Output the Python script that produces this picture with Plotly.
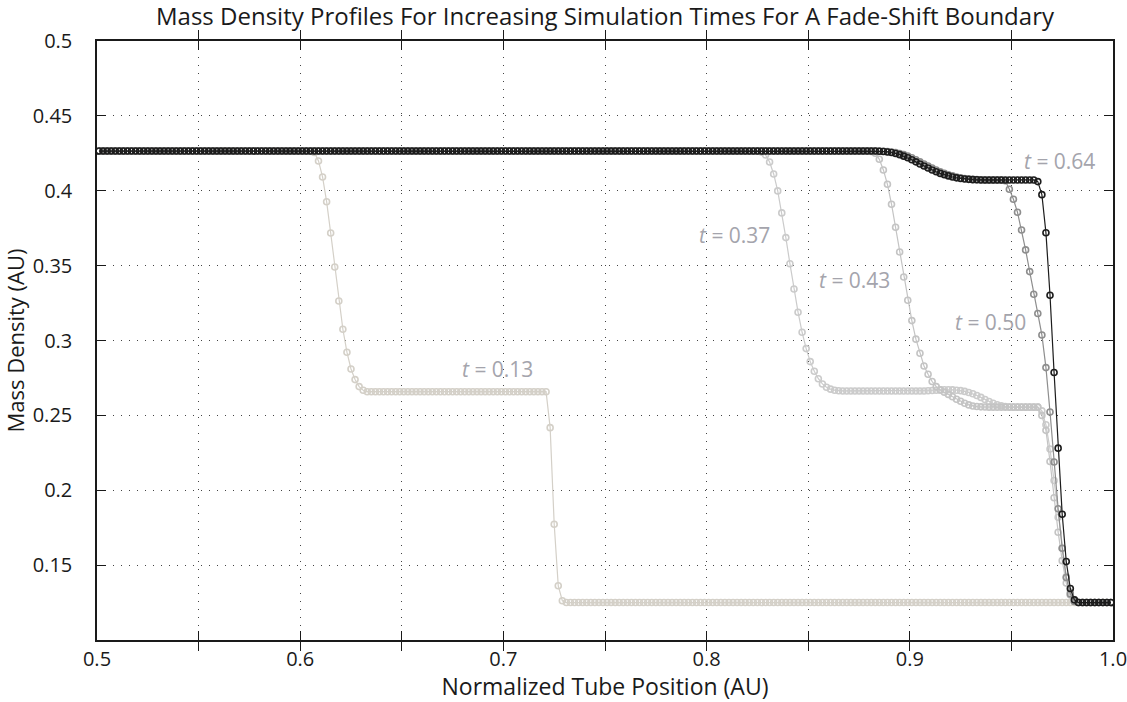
import plotly.graph_objects as go

# ---------------- data ----------------
# simulation cells: 500 cells on [0, 1]; centres shown from 0.501 to 0.999
CELL_COUNT = 500
FIRST_SHOWN_CELL = 250
cell_x = [(i + 0.5) / CELL_COUNT for i in range(FIRST_SHOWN_CELL, CELL_COUNT)]

LEFT_STATE = 0.4265
RIGHT_STATE = 0.125

# descent 0.4265 -> 0.4072 seen for t = 0.50 and t = 0.64 near x = 0.89-0.93
UPPER_SHELF_DESCENT = [0.4264, 0.4262, 0.4259, 0.4255, 0.4249, 0.4241, 0.4231, 0.4220,
                       0.4207, 0.4193, 0.4179, 0.4165, 0.4152, 0.4139, 0.4127, 0.4116,
                       0.4107, 0.4099, 0.4092, 0.4086, 0.4082, 0.4078, 0.4076, 0.4074,
                       0.4073]

density_t013 = ([LEFT_STATE] * 53 + [0.4255]
                + [0.4199, 0.4092, 0.3927, 0.3718, 0.3491, 0.3264, 0.3075, 0.2922,
                   0.2810, 0.2739, 0.2692, 0.2668]
                + [0.2658] * 45
                + [0.2418, 0.1773, 0.1362, 0.1262]
                + [RIGHT_STATE] * 135)

density_t037 = ([LEFT_STATE] * 163 + [0.4258]
                + [0.4239, 0.4192, 0.4112, 0.3999, 0.3852, 0.3687, 0.3513, 0.3344,
                   0.3189, 0.3055, 0.2946, 0.2859, 0.2795, 0.2745, 0.2710, 0.2688,
                   0.2675, 0.2668, 0.2664]
                + [0.2663] * 21
                + [0.2664, 0.2666, 0.2668, 0.2670, 0.2671, 0.2671, 0.2670, 0.2668,
                   0.2665, 0.2660]
                + [0.2653, 0.2644, 0.2633, 0.2620, 0.2606, 0.2593, 0.2581, 0.2571,
                   0.2564, 0.2559, 0.2556]
                + [0.2555] * 7
                + [0.2530, 0.2437, 0.2275, 0.2065, 0.1820, 0.1613, 0.1423, 0.1320,
                   0.1270, 0.1252]
                + [RIGHT_STATE] * 8)

density_t043 = ([LEFT_STATE] * 190 + [0.4262, 0.4250]
                + [0.4210, 0.4139, 0.4043, 0.3910, 0.3756, 0.3591, 0.3424, 0.3269,
                   0.3133, 0.3009, 0.2915, 0.2830, 0.2775, 0.2726, 0.2692]
                + [0.2670, 0.2655, 0.2640, 0.2624, 0.2608, 0.2594, 0.2581, 0.2570,
                   0.2563, 0.2559, 0.2557, 0.2556]
                + [0.2555] * 13
                + [0.2500, 0.2400, 0.2192, 0.1950, 0.1720, 0.1530, 0.1380, 0.1300,
                   0.1260, 0.1251]
                + [RIGHT_STATE] * 8)

density_t050 = ([LEFT_STATE] * 193 + UPPER_SHELF_DESCENT
                + [0.4072] * 5
                + [0.4067, 0.4010, 0.3943, 0.3856, 0.3738, 0.3605, 0.3460, 0.3309,
                   0.3180, 0.3037, 0.2819, 0.2523, 0.2189, 0.1876, 0.1613, 0.1417,
                   0.1308, 0.1257]
                + [RIGHT_STATE] * 9)

density_t064 = ([LEFT_STATE] * 192 + UPPER_SHELF_DESCENT
                + [0.4072] * 14 + [0.4061]
                + [0.3974, 0.3720, 0.3302, 0.2786, 0.2281, 0.1840, 0.1524, 0.1344,
                   0.1268]
                + [RIGHT_STATE] * 9)

series_names = ["t = 0.13", "t = 0.37", "t = 0.43", "t = 0.50", "t = 0.64"]
series_values = [density_t013, density_t037, density_t043, density_t050, density_t064]
series_colors = ["#d4d0c8", "#cbcbcb", "#c4c4c4", "#8e8e8e", "#1c1c1c"]

label_text = ["<i>t</i> = 0.13", "<i>t</i> = 0.37", "<i>t</i> = 0.43",
              "<i>t</i> = 0.50", "<i>t</i> = 0.64"]
label_x = [0.6786, 0.7951, 0.8541, 0.9214, 0.9550]
label_y = [0.2808, 0.3705, 0.3404, 0.3126, 0.4201]

x_tick_vals = [0.5, 0.55, 0.6, 0.65, 0.7, 0.75, 0.8, 0.85, 0.9, 0.95, 1.0]
x_tick_text = ["0.5", "", "0.6", "", "0.7", "", "0.8", "", "0.9", "", "1.0"]
y_tick_vals = [0.15, 0.2, 0.25, 0.3, 0.35, 0.4, 0.45, 0.5]
y_tick_text = ["0.15", "0.2", "0.25", "0.3", "0.35", "0.4", "0.45", "0.5"]
Y_RANGE = [0.1, 0.5]
X_RANGE = [0.5, 1.0]

# ---------------- figure ----------------
FONT = "Open Sans"
TEXT_COLOR = "#1a1a1a"
fig = go.Figure()
for name, vals, col in zip(series_names, series_values, series_colors):
    fig.add_trace(go.Scatter(
        x=cell_x, y=vals, mode="lines+markers", name=name,
        line=dict(color=col, width=1.2),
        marker=dict(symbol="circle-open", size=6, color=col, line=dict(width=1.6, color=col)),
        showlegend=False,
    ))
# empty trace that carries the overlay axis used for the inward y ticks
fig.add_trace(go.Scatter(x=[], y=[], yaxis="y2", showlegend=False, hoverinfo="skip"))

for t, x, y in zip(label_text, label_x, label_y):
    fig.add_annotation(x=x, y=y, text=t, showarrow=False, xanchor="left", yanchor="middle",
                       font=dict(family=FONT, size=21, color="#a4a4ac"))

fig.update_xaxes(
    range=X_RANGE, tickvals=x_tick_vals, ticktext=x_tick_text,
    showline=True, linecolor=TEXT_COLOR, linewidth=1.5, mirror="allticks",
    ticks="inside", ticklen=9, tickwidth=1, tickcolor=TEXT_COLOR,
    showgrid=True, gridcolor="#444444", gridwidth=1, griddash="1px,7px",
    zeroline=False, automargin=False, ticklabeloverflow="allow",
    tickfont=dict(family=FONT, size=20, color=TEXT_COLOR),
    title=dict(text="Normalized Tube Position (AU)", standoff=4,
               font=dict(family=FONT, size=23, color=TEXT_COLOR)),
)

fig.update_layout(
    width=1127, height=702,
    margin=dict(l=97, r=14, t=41, b=62),
    paper_bgcolor="white", plot_bgcolor="white",
    title=dict(text="Mass Density Profiles For Increasing Simulation Times For A Fade-Shift Boundary",
               x=0.5, xref="paper", y=1 - 17 / 702, yref="container", yanchor="middle",
               font=dict(family=FONT, size=24, color=TEXT_COLOR)),
    yaxis=dict(
        range=Y_RANGE, tickvals=y_tick_vals, ticktext=y_tick_text,
        showline=True, linecolor=TEXT_COLOR, linewidth=1.5, mirror=True,
        ticks="outside", ticklen=19, tickcolor="rgba(0,0,0,0)",
        showgrid=True, gridcolor="#444444", gridwidth=1, griddash="1px,7px",
        zeroline=False,
        tickfont=dict(family=FONT, size=20, color=TEXT_COLOR),
        title=dict(text="Mass Density (AU)", standoff=2,
                   font=dict(family=FONT, size=22, color=TEXT_COLOR)),
    ),
    yaxis2=dict(
        overlaying="y", side="left", anchor="x", range=Y_RANGE, tickvals=y_tick_vals,
        showticklabels=False, ticks="inside", ticklen=9, tickwidth=1, tickcolor=TEXT_COLOR,
        mirror="allticks", showline=False, showgrid=False, zeroline=False, automargin=False,
    ),
)

fig.write_html("out.html")
